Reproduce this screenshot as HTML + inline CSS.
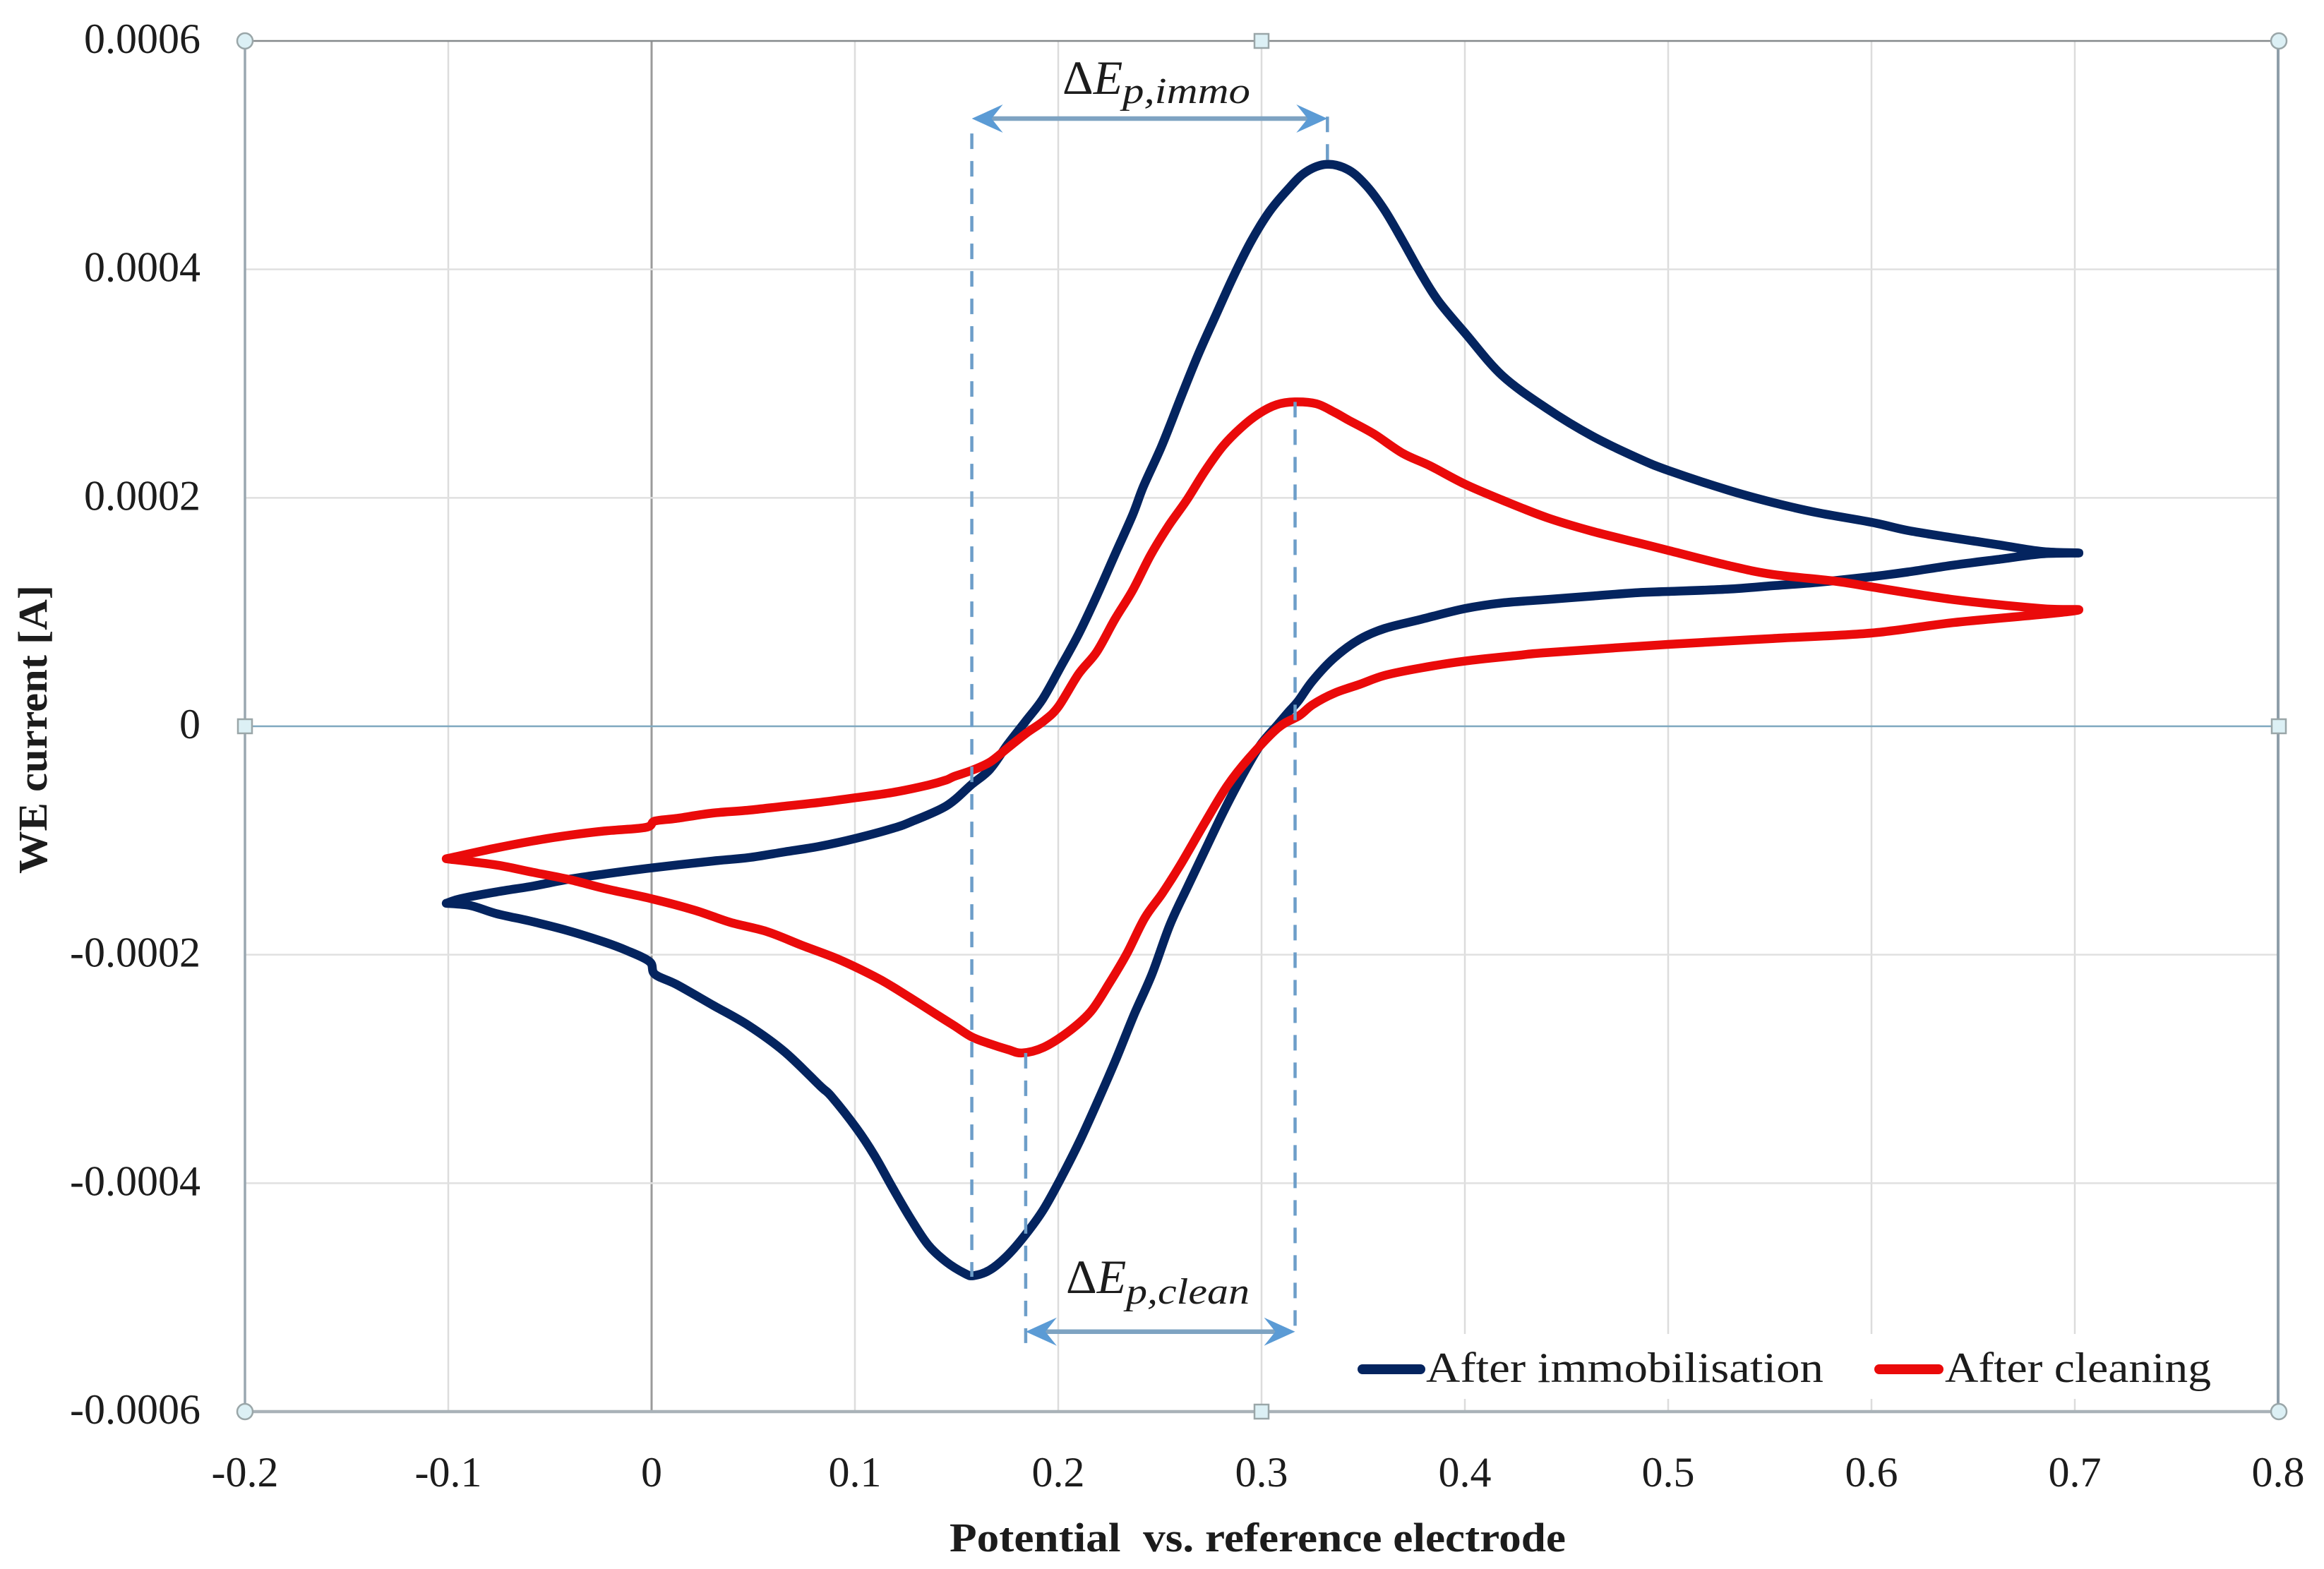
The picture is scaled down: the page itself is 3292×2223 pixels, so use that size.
<!DOCTYPE html>
<html lang="en">
<head>
<meta charset="utf-8">
<title>Cyclic voltammogram</title>
<style>
html,body{margin:0;padding:0;background:#fff;}
svg{display:block;}
text{font-family:"Liberation Serif",serif;fill:#1c1c1c;}
</style>
</head>
<body>
<svg xmlns="http://www.w3.org/2000/svg" width="3292" height="2223" viewBox="0 0 3292 2223">
  <g id="chart"></g>
  <text x="1345" y="2198" font-size="58" font-weight="bold" textLength="873" lengthAdjust="spacingAndGlyphs" xml:space="preserve">Potential  vs. reference electrode</text>
  <text transform="translate(66 1238) rotate(-90)" font-size="58" font-weight="bold" textLength="409" lengthAdjust="spacingAndGlyphs">WE current [A]</text>
  <line x1="1930" x2="2012" y1="1940" y2="1940" stroke="#04245f" stroke-width="14" stroke-linecap="round"></line>
  <text x="2020" y="1958" font-size="60" textLength="563" lengthAdjust="spacingAndGlyphs">After immobilisation</text>
  <line x1="2662" x2="2746" y1="1940" y2="1940" stroke="#ea0a0a" stroke-width="14" stroke-linecap="round"></line>
  <text x="2755" y="1958" font-size="60" textLength="377" lengthAdjust="spacingAndGlyphs">After cleaning</text>
  <text x="1505" y="133" font-size="68">Δ<tspan font-style="italic">E</tspan></text>
  <text x="1590" y="146" font-size="52" font-style="italic" textLength="181" lengthAdjust="spacingAndGlyphs">p,immo</text>
  <text x="1510" y="1832" font-size="68">Δ<tspan font-style="italic">E</tspan></text>
  <text x="1595" y="1847" font-size="52" font-style="italic" textLength="175" lengthAdjust="spacingAndGlyphs">p,clean</text>
</svg>
<script>
const xTicks = [-0.2, -0.1, 0, 0.1, 0.2, 0.3, 0.4, 0.5, 0.6, 0.7, 0.8];
const xTickLabels = ['-0.2', '-0.1', '0', '0.1', '0.2', '0.3', '0.4', '0.5', '0.6', '0.7', '0.8'];
const yTicks = [0.0006, 0.0004, 0.0002, 0, -0.0002, -0.0004, -0.0006];
const yTickLabels = ['0.0006', '0.0004', '0.0002', '0', '-0.0002', '-0.0004', '-0.0006'];

/* Potential in V, current in microamps, in scan order around the loop */
const immobilisationPotential = [
  -0.101,-0.089,-0.0764,-0.0587,-0.041,-0.023,-0.0126,-0.001,0.0016,0.0122,0.03,0.0477,0.0654,0.083,0.0884,0.1008,0.1097,0.1185,0.1274,0.136,0.145,0.154,0.1584,
  0.1664,0.1752,0.1841,0.1929,0.2018,0.2106,0.2195,0.2283,0.2372,0.2461,0.2549,0.2638,0.2726,0.2815,0.2903,0.2992,0.308,0.3133,0.318,0.3252,0.3358,0.3481,0.3605,0.3782,
  0.4,0.4184,0.4405,0.4627,0.4848,0.5,0.529,0.5513,0.5734,0.6,0.6177,0.64,0.662,0.684,0.702,
  0.684,0.662,0.64,0.6177,0.6,0.5734,0.5513,0.529,0.5,0.4848,0.4627,0.4405,0.4184,0.4007,0.3871,0.3782,0.3694,0.3605,0.3517,0.3428,0.3322,0.3216,0.3127,0.3039,0.295,0.2862,0.2773,0.2685,0.2596,0.2508,0.2419,0.2366,0.2278,0.2189,0.2101,0.2012,0.1924,
  0.1841,0.1752,0.1664,0.1574,0.145,0.1274,0.1185,0.1008,0.083,0.0654,0.0477,0.03,0,-0.0232,-0.0409,-0.0586,-0.0763,-0.094,-0.101
];
const immobilisationCurrent = [
  -155,-157,-164,-171,-179,-189,-196,-206,-217,-226,-244,-262,-285,-315,-324,-352,-376,-404,-431,-454,-469,-479,-481,
  -476,-463,-444.6,-422.6,-394,-363,-328,-292,-253,-217,-174,-140,-107,-74,-44,-17,1.5,12.6,22,40,60,76,85.6,93.5,
  103,108,111,114,117,118,120,123,126,131,135,141,146,151,151.7,
  153,159,165,171.5,178.6,187,196,207,224,235,254,278,307,343,372,397,425,452,473,487,492,485,469.5,450.6,425,394,359,324,284.6,245,210,185,150,114,81,52,24,
  4.7,-15.7,-37.7,-51,-69.7,-83.8,-89.5,-98,-105,-110,-115,-118,-124,-129.4,-134,-140,-145,-151,-155
];
const cleaningPotential = [
  -0.101,-0.0763,-0.0586,-0.0409,-0.0232,0,0.0211,0.0388,0.0565,0.0742,0.0919,0.1096,0.1185,0.131,0.1398,0.1487,0.1575,0.1664,0.1752,0.1823,0.1929,0.2053,0.2159,0.2248,0.2336,0.2425,0.2513,0.2602,0.2726,0.2832,0.2938,0.308,0.3186,0.3252,0.3358,0.3481,0.3605,0.3782,0.3995,
  0.4257,0.4405,0.5,0.5513,0.6,0.64,0.684,0.702,
  0.684,0.64,0.6,0.5823,0.5513,0.529,0.5,0.4848,0.4627,0.4405,0.4184,0.4,0.3829,0.3694,0.3552,0.3428,0.3358,0.3269,0.3163,0.3074,0.2986,0.2897,0.2809,0.272,0.2632,0.2543,0.2455,0.2366,0.2278,0.2189,0.2101,0.2,0.1929,0.1841,0.1752,0.1664,0.1575,0.1487,0.145,0.1361,0.1184,0.1007,0.083,0.0653,0.0477,0.03,0.0122,0.0016,-0.0028,-0.0232,-0.0409,-0.0586,-0.0763,-0.101
];
const cleaningCurrent = [
  -116,-121.5,-127.8,-134,-142,-151,-161,-171.7,-179.6,-192,-204,-219,-228,-242,-252,-262,-272,-278,-283,-286,-281,-267,-250,-226,-199.5,-168,-146,-121,-83,-52,-28,-1.6,9.4,19,29,36.6,44.5,51,57,
  62,64.5,71.7,76.8,81.6,90.7,98,102,
  103,111,122,127,133,141,154,160.8,170.7,182.6,198,212,228,239,256,268,275,282.4,284,281.5,273.6,261,245,223,198,175.6,150,119,93.5,65,46,17,4.7,-6.3,-18.9,-31.4,-38.6,-44,-47,-51.5,-58,-62.5,-66.6,-70,-73.5,-76,-80.7,-83,-88.5,-91.7,-95.5,-100.5,-106.5,-116
];

const guidePotential = [0.1575, 0.3324, 0.184, 0.3165];
const guideTopCurrent = [519, 496, -286, 284];
const guideBottomCurrent = [-482, 535, -540, -528];
const immoArrowSpan = [0.1575, 0.3324];
const immoArrowCurrent = 532;
const cleanArrowSpan = [0.184, 0.3165];
const cleanArrowCurrent = -530;

const plot = { left: 347, right: 3227, top: 58, bottom: 2000 };
const xMin = -0.2, xMax = 0.8, yMin = -0.0006, yMax = 0.0006;
function xScale(v) { return plot.left + (v - xMin) / (xMax - xMin) * (plot.right - plot.left); }
function yScale(v) { return plot.bottom - (v - yMin) / (yMax - yMin) * (plot.bottom - plot.top); }
function yMicro(v) { return yScale(v * 1e-6); }

const svg = document.getElementById('chart');
const NS = 'http://www.w3.org/2000/svg';
function make(tag, attrs, text) {
  const el = document.createElementNS(NS, tag);
  for (const k in attrs) el.setAttribute(k, attrs[k]);
  if (text !== undefined) el.textContent = text;
  svg.appendChild(el);
  return el;
}

/* gridlines */
xTicks.forEach(function (t, i) {
  if (t === xMin || t === xMax) return;
  const el = make('line', { x1: xScale(t), x2: xScale(t), y1: plot.top, y2: plot.bottom, stroke: t === 0 ? '#9a9a9a' : '#dcdcdc', 'stroke-width': t === 0 ? 3 : 2.5 });
  
  
});
yTicks.forEach(function (t, i) {
  if (t === yMin || t === yMax || t === 0) return;
  const el = make('line', { x1: plot.left, x2: plot.right, y1: yScale(t), y2: yScale(t), stroke: '#e0e0e0', 'stroke-width': 2.5 });
  
  
});

/* legend backing hides gridlines */
const legendBack = make('rect', { x: 1885, y: 1890, width: 1300, height: 92, fill: '#ffffff' });



/* frame and axes */
const frameTop = make('line', { x1: plot.left, x2: plot.right, y1: plot.top, y2: plot.top, stroke: '#85898c', 'stroke-width': 2.5 });


const frameLeft = make('line', { x1: plot.left, x2: plot.left, y1: plot.top, y2: plot.bottom, stroke: '#9aa7b0', 'stroke-width': 3.5 });


const frameRight = make('line', { x1: plot.right, x2: plot.right, y1: plot.top, y2: plot.bottom, stroke: '#8f9ea9', 'stroke-width': 4 });


const frameBottom = make('line', { x1: plot.left, x2: plot.right, y1: plot.bottom, y2: plot.bottom, stroke: '#a9b2b8', 'stroke-width': 4.5 });


const zeroLine = make('line', { x1: plot.left, x2: plot.right, y1: yScale(0), y2: yScale(0), stroke: '#7fa8bf', 'stroke-width': 2.5 });



/* series: smooth Catmull-Rom path through the data points */
function pathFrom(xs, ys) {
  const px = xs.map(xScale);
  const py = ys.map(yMicro);
  const n = px.length;
  let d = 'M' + px[0].toFixed(1) + ' ' + py[0].toFixed(1);
  for (let i = 0; i < n - 1; i++) {
    const a = Math.max(i - 1, 0), c = i + 1, e = Math.min(i + 2, n - 1);
    const c1x = px[i] + (px[c] - px[a]) / 6, c1y = py[i] + (py[c] - py[a]) / 6;
    const c2x = px[c] - (px[e] - px[i]) / 6, c2y = py[c] - (py[e] - py[i]) / 6;
    d += ' C' + c1x.toFixed(1) + ' ' + c1y.toFixed(1) + ' ' + c2x.toFixed(1) + ' ' + c2y.toFixed(1) + ' ' + px[c].toFixed(1) + ' ' + py[c].toFixed(1);
  }
  return d;
}
const immoLine = make('path', { d: pathFrom(immobilisationPotential, immobilisationCurrent), fill: 'none', stroke: '#04245f', 'stroke-width': 12.5, 'stroke-linejoin': 'round', 'stroke-linecap': 'round' });


const cleanLine = make('path', { d: pathFrom(cleaningPotential, cleaningCurrent), fill: 'none', stroke: '#ea0a0a', 'stroke-width': 12.5, 'stroke-linejoin': 'round', 'stroke-linecap': 'round' });



/* peak guides */
guidePotential.forEach(function (e, i) {
  const el = make('line', { x1: xScale(e), x2: xScale(e), y1: yMicro(guideTopCurrent[i]), y2: yMicro(guideBottomCurrent[i]), stroke: '#6d9ec9', 'stroke-width': 4.5, 'stroke-dasharray': '22 17' });
  
  
});

/* double arrows */
function doubleArrow(span, current, name) {
  const a = xScale(span[0]), b = xScale(span[1]), y = yMicro(current);
  const shaft = make('line', { x1: a + 20, x2: b - 20, y1: y, y2: y, stroke: '#7ea3c2', 'stroke-width': 6.5 });
  
  
  const headA = make('path', { d: 'M' + a + ' ' + y + ' L' + (a + 44) + ' ' + (y - 20) + ' L' + (a + 28) + ' ' + y + ' L' + (a + 44) + ' ' + (y + 20) + ' Z', fill: '#5b9bd5' });
  
  
  const headB = make('path', { d: 'M' + b + ' ' + y + ' L' + (b - 44) + ' ' + (y - 20) + ' L' + (b - 28) + ' ' + y + ' L' + (b - 44) + ' ' + (y + 20) + ' Z', fill: '#5b9bd5' });
  
  
}
doubleArrow(immoArrowSpan, immoArrowCurrent, 'delta-immo-arrow');
doubleArrow(cleanArrowSpan, cleanArrowCurrent, 'delta-clean-arrow');

/* handles */
function handle(cx, cy, round, name) {
  let el;
  if (round) {
    el = make('circle', { cx: cx, cy: cy, r: 11, fill: '#dcf0f5', stroke: '#9aa6a8', 'stroke-width': 2.5 });
  } else {
    el = make('rect', { x: cx - 10, y: cy - 10, width: 20, height: 20, fill: '#dcf0f5', stroke: '#9aa6a8', 'stroke-width': 2.5 });
  }
  
  
}
const midX = (plot.left + plot.right) / 2, midY = (plot.top + plot.bottom) / 2;
handle(plot.left, plot.top, true, 'handle-top-left');
handle(midX, plot.top, false, 'handle-top-middle');
handle(plot.right + 1, plot.top, true, 'handle-top-right');
handle(plot.left, midY, false, 'handle-middle-left');
handle(plot.right + 1, midY, false, 'handle-middle-right');
handle(plot.left, plot.bottom, true, 'handle-bottom-left');
handle(midX, plot.bottom, false, 'handle-bottom-middle');
handle(plot.right + 1, plot.bottom, true, 'handle-bottom-right');

/* tick labels */
xTicks.forEach(function (t, i) {
  const el = make('text', { x: xScale(t), y: 2106, 'font-size': 60, 'text-anchor': 'middle' }, xTickLabels[i]);
  
  
});
yTicks.forEach(function (t, i) {
  const el = make('text', { x: 284, y: yScale(t) + 17, 'font-size': 60, 'text-anchor': 'end' }, yTickLabels[i]);
  
  
});
</script>
</body>
</html>
